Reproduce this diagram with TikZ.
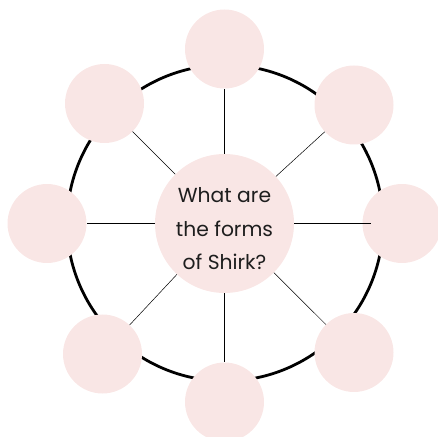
\documentclass[tikz,border=0pt]{standalone}
\usepackage{fontspec}
\setmainfont{Poppins}
\usetikzlibrary{positioning}
\definecolor{petal}{RGB}{249,230,229}
\definecolor{ink}{RGB}{30,30,30}

\begin{document}
\begin{tikzpicture}[x=1pt,y=1pt]
\tikzstyle{hub}=[circle,fill=petal,minimum size=139pt,inner sep=0pt,align=center,text=ink,font=\fontsize{20.3}{33.5}\selectfont]
\tikzstyle{leaf}=[circle,fill=petal,minimum size=79pt,inner sep=0pt]
\tikzstyle{spoke}=[line width=0.8pt]
\tikzstyle{slant}=[line width=0.5pt]
\useasboundingbox (0,0) rectangle (438,436);
\draw[line width=2.8pt] (225,213) circle (158);
\node[hub] (q) at (224.5,212.5) {\rule{0pt}{26pt}What are\\the forms\\of Shirk?};
\node[leaf] (n) at (224.5,387) {};
\node[leaf] (ne) at (354,331) {};
\node[leaf] (e) at (402,212.5) {};
\node[leaf] (se) at (354,83.5) {};
\node[leaf] (s) at (224.5,34) {};
\node[leaf] (sw) at (102.5,82) {};
\node[leaf] (w) at (47,212.5) {};
\node[leaf] (nw) at (104.5,332.5) {};
\draw[spoke] (q) -- (n);
\draw[spoke] (q) -- (s);
\draw[spoke] (q) -- (w);
\draw[spoke,shorten >=-9pt] (q) -- (e);
\draw[slant] (q) -- (ne);
\draw[slant] (q) -- (se);
\draw[slant] (q) -- (sw);
\draw[slant] (q) -- (nw);
\end{tikzpicture}
\end{document}
